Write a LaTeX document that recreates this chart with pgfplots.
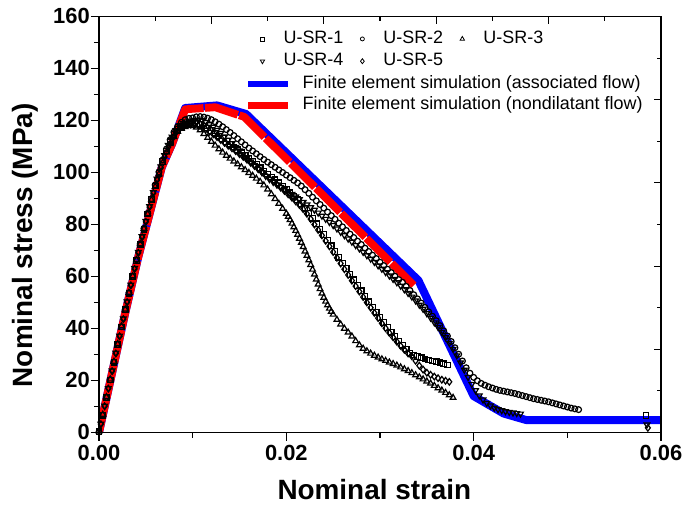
\documentclass[border=0pt]{standalone}
\usepackage{fontspec}
\setmainfont{Liberation Sans}
\usepackage{pgfplots}
\pgfplotsset{compat=1.18}
\begin{document}
\begin{tikzpicture}
\pgfplotsset{
  myframe/.style={at={(0,0)}, anchor=south west, scale only axis,
    width=562bp, height=416bp,
    axis line style={line width=1.2bp},
    tick style={line width=1.1bp, black}},
  specimen/.style={only marks, black, line width=1.2bp, mark options={solid}, forget plot},
}
\begin{axis}[myframe,
  xmin=0, xmax=0.06, ymin=0, ymax=160,
  xtick={0,0.02,0.04,0.06}, minor xtick={0.01,0.03,0.05},
  ytick={0,20,...,160}, minor ytick={10,30,...,150},
  xtick pos=left, ytick pos=left, tick align=outside,
  major tick length=8bp, minor tick length=5bp,
  scaled x ticks=false,
  /pgf/number format/assume math mode=true,
  xticklabel style={/pgf/number format/.cd, fixed, fixed zerofill, precision=2, /tikz/.cd,
    font=\bfseries\fontsize{22}{22}\selectfont, inner sep=4.5bp},
  yticklabel style={font=\bfseries\fontsize{22}{22}\selectfont, inner sep=1bp, yshift=1bp},
  xlabel={Nominal strain},
  ylabel={Nominal stress (MPa)},
  xlabel style={font=\bfseries\fontsize{28}{28}\selectfont, at={(axis description cs:0.49,-0.138)}, anchor=center},
  ylabel style={font=\bfseries\fontsize{28}{28}\selectfont, at={(axis description cs:-0.1317,0.45)}, anchor=center},
  legend cell align=left,
  legend image code/.code={\draw[#1, line width=6.5bp, line cap=butt, solid] (0bp,0bp) -- (40bp,0bp);},
  legend style={at={(axis description cs:0.2598,0.8589)}, anchor=north west,
    draw=none, fill=none, inner sep=0pt, row sep=4.6bp,
    font=\fontsize{18}{18}\selectfont,
    nodes={inner sep=0pt, text height=13bp, text depth=4bp},
    /tikz/every odd column/.append style={column sep=11bp}},
]
% U-SR-1
\addplot[specimen, mark=square, mark size=2.8bp] coordinates {
(0,0.3) (0.0004,6.6) (0.0008,13.4) (0.0012,20.2) (0.0016,27.0) (0.0020,33.8) (0.0024,40.6) (0.0028,47.2)
(0.0032,53.6) (0.0036,60.0) (0.0040,66.2) (0.0044,72.2) (0.0048,78.2) (0.0052,84.0) (0.0056,89.6) (0.0060,94.8)
(0.0064,99.7) (0.0068,104.2) (0.0072,108.3) (0.0076,111.8) (0.0080,114.6) (0.0084,116.6) (0.0088,117.8) (0.0092,118.5)
(0.0096,118.8) (0.0100,119.0) (0.0104,118.9) (0.0108,118.5) (0.0112,117.9) (0.0116,117.1) (0.0120,116.1) (0.0124,115.1)
(0.0128,114.0) (0.0132,113.0) (0.0136,111.9) (0.0140,110.9) (0.0144,109.8) (0.0148,108.7) (0.0152,107.6) (0.0156,106.5)
(0.0160,105.4) (0.0164,104.2) (0.0168,103.0) (0.0172,101.8) (0.0176,100.6) (0.0180,99.4) (0.0184,98.3) (0.0188,97.2)
(0.0192,96.0) (0.0196,94.8) (0.0200,93.5) (0.0204,92.2) (0.0208,90.9) (0.0212,89.5) (0.0216,88.0) (0.0220,86.3)
(0.0224,84.4) (0.0228,82.4) (0.0232,80.3) (0.0236,78.2) (0.0240,76.1) (0.0244,74.0) (0.0248,71.8) (0.0252,69.6)
(0.0256,67.4) (0.0260,65.2) (0.0264,63.0) (0.0268,60.8) (0.0272,58.7) (0.0276,56.6) (0.0280,54.5) (0.0284,52.4)
(0.0288,50.3) (0.0292,48.3) (0.0296,46.3) (0.0300,44.3) (0.0304,42.3) (0.0308,40.4) (0.0312,38.6) (0.0316,36.9)
(0.0320,35.2) (0.0324,33.6) (0.0328,32.1) (0.0332,30.6) (0.0336,29.8) (0.0340,29.2) (0.0344,28.7) (0.0348,28.3)
(0.0352,27.9) (0.0356,27.5) (0.0360,27.2) (0.0364,26.8) (0.0368,26.4) (0.0372,26.0) (0.0584,6.5)
};
% U-SR-2
\addplot[specimen, mark=o, mark size=2.9bp] coordinates {
(0,0.2) (0.0004,6.7) (0.0008,13.5) (0.0012,20.3) (0.0016,27.1) (0.0020,33.9) (0.0024,40.7) (0.0028,47.3)
(0.0032,53.7) (0.0036,60.1) (0.0040,66.4) (0.0044,72.5) (0.0048,78.5) (0.0052,84.3) (0.0056,89.9) (0.0060,95.2)
(0.0064,100.2) (0.0068,104.8) (0.0072,109.0) (0.0076,112.6) (0.0080,115.5) (0.0084,117.7) (0.0088,119.3) (0.0092,120.3)
(0.0096,120.8) (0.0100,121.0) (0.0104,121.4) (0.0108,121.5) (0.0112,121.3) (0.0116,120.9) (0.0120,120.3) (0.0124,119.5)
(0.0128,118.6) (0.0132,117.6) (0.0136,116.5) (0.0140,115.4) (0.0144,114.2) (0.0148,113.0) (0.0152,111.8) (0.0156,110.6)
(0.0160,109.4) (0.0164,108.3) (0.0168,107.2) (0.0172,106.1) (0.0176,105.0) (0.0180,104.0) (0.0184,103.0) (0.0188,102.0)
(0.0192,101.0) (0.0196,100.0) (0.0200,99.0) (0.0204,98.0) (0.0208,97.0) (0.0212,96.0) (0.0216,94.8) (0.0220,93.4)
(0.0224,92.0) (0.0228,90.5) (0.0232,89.1) (0.0236,87.7) (0.0240,86.3) (0.0244,84.8) (0.0248,83.4) (0.0252,82.0)
(0.0256,80.5) (0.0260,79.1) (0.0264,77.7) (0.0268,76.3) (0.0272,75.0) (0.0276,73.6) (0.0280,72.3) (0.0284,70.9)
(0.0288,69.6) (0.0292,68.2) (0.0296,66.9) (0.0300,65.5) (0.0304,64.2) (0.0308,62.8) (0.0312,61.5) (0.0316,60.1)
(0.0320,58.8) (0.0324,57.8) (0.0328,56.2) (0.0332,54.6) (0.0336,53.0) (0.0340,51.4) (0.0344,49.8) (0.0348,48.1)
(0.0352,46.4) (0.0356,44.7) (0.0360,43.0) (0.0364,41.1) (0.0368,39.1) (0.0372,37.1) (0.0376,35.0) (0.0380,32.6)
(0.0384,30.1) (0.0388,27.5) (0.0392,24.9) (0.0396,22.8) (0.0400,21.2) (0.0404,19.9) (0.0408,18.9) (0.0412,18.2)
(0.0416,17.6) (0.0420,17.1) (0.0424,16.6) (0.0428,16.2) (0.0432,15.9) (0.0436,15.6) (0.0440,15.3) (0.0444,15.0)
(0.0448,14.6) (0.0452,14.2) (0.0456,13.8) (0.0460,13.4) (0.0464,13.0) (0.0468,12.7) (0.0472,12.4) (0.0476,12.1)
(0.0480,11.8) (0.0484,11.4) (0.0488,11.0) (0.0492,10.6) (0.0496,10.2) (0.0500,9.8) (0.0504,9.4) (0.0508,9.1) (0.0512,8.8)
};
% U-SR-3
\addplot[specimen, mark=triangle, mark size=3.3bp] coordinates {
(0,0.5) (0.0004,6.9) (0.0008,13.7) (0.0012,20.5) (0.0016,27.3) (0.0020,34.1) (0.0024,40.9) (0.0028,47.4)
(0.0032,53.8) (0.0036,60.2) (0.0040,66.4) (0.0044,72.5) (0.0048,78.4) (0.0052,84.1) (0.0056,89.5) (0.0060,94.6)
(0.0064,99.4) (0.0068,103.8) (0.0072,107.7) (0.0076,111.0) (0.0080,113.7) (0.0084,115.7) (0.0088,116.9) (0.0092,117.5)
(0.0096,117.9) (0.0100,118.0) (0.0104,117.4) (0.0108,116.3) (0.0112,114.9) (0.0116,113.4) (0.0120,111.9) (0.0124,110.4)
(0.0128,109.0) (0.0132,107.7) (0.0136,106.5) (0.0140,105.4) (0.0144,104.3) (0.0148,103.2) (0.0152,102.1) (0.0156,101.0)
(0.0160,99.9) (0.0164,98.8) (0.0168,97.7) (0.0172,96.5) (0.0176,95.1) (0.0180,93.5) (0.0184,91.7) (0.0188,89.9)
(0.0192,88.0) (0.0196,86.1) (0.0200,84.2) (0.0202,83.0) (0.0204,81.8) (0.0206,80.4) (0.0208,79.0) (0.0210,77.6)
(0.0212,76.1) (0.0214,74.6) (0.0216,73.0) (0.0218,71.4) (0.0220,69.7) (0.0222,68.0) (0.0224,66.3) (0.0226,64.5)
(0.0228,62.7) (0.0230,60.8) (0.0232,58.9) (0.0234,57.0) (0.0236,55.2) (0.0238,53.5) (0.0240,51.9) (0.0242,50.4)
(0.0244,49.0) (0.0246,47.7) (0.0248,46.5) (0.0250,45.4) (0.0254,43.4) (0.0258,41.6) (0.0262,40.0) (0.0266,38.5)
(0.0270,37.0) (0.0274,35.2) (0.0278,33.6) (0.0282,32.3) (0.0286,31.3) (0.0290,30.4) (0.0294,29.6) (0.0298,28.9)
(0.0302,28.2) (0.0306,27.6) (0.0310,27.0) (0.0314,26.4) (0.0318,25.8) (0.0322,25.1) (0.0326,24.4) (0.0330,23.7)
(0.0334,22.9) (0.0338,22.1) (0.0342,21.3) (0.0346,20.5) (0.0350,19.7) (0.0354,18.9) (0.0358,18.0) (0.0362,17.1)
(0.0366,16.2) (0.0370,15.3) (0.0374,14.4) (0.0378,13.4)
};
% U-SR-4
\addplot[specimen, mark=triangle, mark size=3.3bp, mark options={solid, rotate=180}] coordinates {
(0.0002,3.3) (0.0006,10.2) (0.0010,17.0) (0.0014,23.8) (0.0018,30.6) (0.0022,37.2) (0.0026,43.8) (0.0030,50.3)
(0.0034,56.8) (0.0038,63.2) (0.0042,69.4) (0.0046,75.4) (0.0050,81.3) (0.0054,87.0) (0.0058,92.4) (0.0062,97.5)
(0.0066,102.3) (0.0070,106.6) (0.0074,110.5) (0.0078,113.7) (0.0082,116.2) (0.0086,117.9) (0.0090,119.0) (0.0094,119.6)
(0.0098,119.9) (0.0102,120.1) (0.0106,120.2) (0.0110,120.0) (0.0114,119.4) (0.0118,118.5) (0.0122,117.5) (0.0126,116.3)
(0.0130,115.1) (0.0134,113.8) (0.0138,112.5) (0.0142,111.2) (0.0146,109.8) (0.0150,108.4) (0.0154,107.0) (0.0158,105.6)
(0.0162,104.2) (0.0166,102.8) (0.0170,101.4) (0.0174,100.0) (0.0178,98.6) (0.0182,97.4) (0.0186,96.3) (0.0190,95.3)
(0.0194,94.4) (0.0198,93.5) (0.0202,92.6) (0.0206,91.7) (0.0210,90.7) (0.0214,89.7) (0.0218,88.6) (0.0222,87.6)
(0.0226,86.6) (0.0230,85.6) (0.0234,84.5) (0.0238,83.3) (0.0242,82.1) (0.0246,80.9) (0.0250,79.7) (0.0254,78.4)
(0.0258,77.1) (0.0262,75.8) (0.0266,74.5) (0.0270,73.3) (0.0274,72.0) (0.0278,70.7) (0.0282,69.4) (0.0286,68.1)
(0.0290,66.8) (0.0294,65.5) (0.0298,64.2) (0.0302,62.9) (0.0306,61.6) (0.0310,60.3) (0.0314,59.0) (0.0318,57.7)
(0.0322,56.4) (0.0326,55.0) (0.0330,53.6) (0.0334,52.2) (0.0338,50.7) (0.0342,49.1) (0.0346,47.5) (0.0350,45.8)
(0.0354,44.1) (0.0358,42.3) (0.0362,40.5) (0.0366,38.6) (0.0370,36.6) (0.0374,34.4) (0.0378,32.1) (0.0382,29.6)
(0.0386,26.9) (0.0390,24.1) (0.0394,21.3) (0.0398,18.6) (0.0402,16.2) (0.0406,14.2) (0.0410,12.6) (0.0414,11.3)
(0.0418,10.3) (0.0422,9.5) (0.0426,8.9) (0.0430,8.5) (0.0434,8.1) (0.0438,7.8) (0.0442,7.6) (0.0446,7.4) (0.0450,7.2)
(0.0585,3.0)
};
% U-SR-5
\addplot[specimen, mark=diamond, mark size=3.3bp] coordinates {
(0.0002,3.2) (0.0006,10.1) (0.0010,16.9) (0.0014,23.6) (0.0018,30.4) (0.0022,37.0) (0.0026,43.6) (0.0030,50.1)
(0.0034,56.6) (0.0038,62.9) (0.0042,69.1) (0.0046,75.1) (0.0050,81.0) (0.0054,86.7) (0.0058,92.1) (0.0062,97.1)
(0.0066,101.8) (0.0070,106.0) (0.0074,109.8) (0.0078,112.9) (0.0082,115.3) (0.0086,116.9) (0.0090,117.9) (0.0094,118.3)
(0.0098,118.4) (0.0102,118.3) (0.0106,118.0) (0.0110,117.4) (0.0114,116.6) (0.0118,115.7) (0.0122,114.7) (0.0126,113.6)
(0.0130,112.5) (0.0134,111.4) (0.0138,110.3) (0.0142,109.3) (0.0146,108.2) (0.0150,107.1) (0.0154,106.0) (0.0158,104.9)
(0.0162,103.7) (0.0166,102.5) (0.0170,101.3) (0.0174,100.1) (0.0178,98.9) (0.0182,97.7) (0.0186,96.6) (0.0190,95.4)
(0.0194,94.2) (0.0198,92.9) (0.0202,91.6) (0.0206,90.3) (0.0210,88.9) (0.0214,87.5) (0.0218,85.9) (0.0222,84.1)
(0.0226,82.1) (0.0230,80.0) (0.0234,77.9) (0.0238,75.8) (0.0242,73.7) (0.0246,71.6) (0.0250,69.4) (0.0254,67.2)
(0.0258,65.0) (0.0262,62.8) (0.0266,60.6) (0.0270,58.4) (0.0274,56.3) (0.0278,54.2) (0.0282,52.1) (0.0286,50.0)
(0.0290,48.0) (0.0294,46.0) (0.0298,44.0) (0.0302,42.0) (0.0306,40.1) (0.0310,38.3) (0.0314,36.6) (0.0318,34.9)
(0.0322,33.3) (0.0326,31.8) (0.0330,30.4) (0.0334,29.3) (0.0338,27.6) (0.0342,25.7) (0.0346,24.2) (0.0350,23.0)
(0.0354,22.2) (0.0358,21.5) (0.0362,20.9) (0.0366,20.3) (0.0370,19.9) (0.0374,19.5) (0.0586,1.8)
};
% finite element results
\addplot[blue, line width=8bp, line join=round] coordinates {
(0,0) (0.0028,46) (0.0042,67.6) (0.0067,102) (0.0078,111) (0.0092,124.8) (0.0126,125.8) (0.0157,122.5)
(0.0341,58.5) (0.0400,14) (0.0432,7.3) (0.0456,4.8) (0.0600,4.8)
};
\addlegendentry{Finite element simulation (associated flow)}
\addplot[red, line width=7.8bp, line join=round, dash pattern=on 34bp off 1.5bp] coordinates {
(0,0) (0.0028,46) (0.0042,67.6) (0.0067,102) (0.0078,111) (0.0092,124.3) (0.0124,125.1) (0.0155,121.4)
(0.0336,56.6)
};
\addlegendentry{Finite element simulation (nondilatant flow)}
\end{axis}
\begin{axis}[myframe,
  xmin=0, xmax=10, ymin=0, ymax=10,
  xtick={2,4,6,8}, minor xtick={1,3,5,7,9},
  ytick={2,4,6,8}, minor ytick={1,3,5,7,9},
  xtick pos=right, ytick pos=right, tick align=inside,
  xticklabels={}, yticklabels={},
  major tick length=7.5bp, minor tick length=4.5bp,
  legend columns=3, legend cell align=left,
  legend image code/.code={\draw[#1] plot coordinates {(0bp,0bp)};},
  legend style={at={(axis description cs:0.2866,0.967)}, anchor=north west,
    draw=none, fill=none, inner sep=0pt, row sep=5.3bp,
    font=\fontsize{18}{18}\selectfont,
    nodes={inner sep=0pt, text height=13bp, text depth=4bp},
    /tikz/every odd column/.append style={column sep=19bp},
    /tikz/every even column/.append style={column sep=17bp}},
]
\addlegendimage{only marks, black, line width=0.8bp, mark=square, mark size=2bp}
\addlegendentry{U-SR-1}
\addlegendimage{only marks, black, line width=0.8bp, mark=o, mark size=2bp}
\addlegendentry{U-SR-2}
\addlegendimage{only marks, black, line width=0.8bp, mark=triangle, mark size=2.5bp}
\addlegendentry{U-SR-3}
\addlegendimage{only marks, black, line width=0.8bp, mark=triangle, mark size=2.5bp, mark options={rotate=180}}
\addlegendentry{U-SR-4}
\addlegendimage{only marks, black, line width=0.8bp, mark=diamond, mark size=2.5bp}
\addlegendentry{U-SR-5}
\end{axis}
\pgfresetboundingbox
\path[use as bounding box] (-99bp,-78.5bp) rectangle (585bp,432.5bp);
\end{tikzpicture}
\end{document}
